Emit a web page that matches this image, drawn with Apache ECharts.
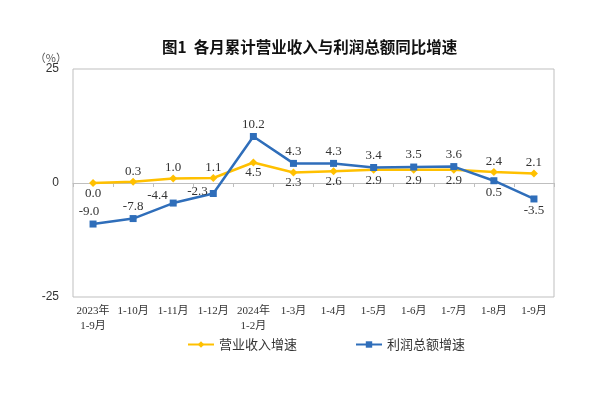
<!DOCTYPE html>
<html>
<head>
<meta charset="utf-8">
<script src="https://cdn.jsdelivr.net/npm/echarts@6/dist/echarts.min.js"></script>
<style>
  html, body { margin: 0; padding: 0; background: #fff; }
  #chart { width: 600px; height: 397px; }
</style>
</head>
<body>
<div id="chart"></div>
<script>
const categories = ['2023年\n1-9月', '1-10月', '1-11月', '1-12月', '2024年\n1-2月', '1-3月',
    '1-4月', '1-5月', '1-6月', '1-7月', '1-8月', '1-9月'];
const revenueGrowth = [0.0, 0.3, 1.0, 1.1, 4.5, 2.3, 2.6, 2.9, 2.9, 2.9, 2.4, 2.1];
const profitGrowth = [-9.0, -7.8, -4.4, -2.3, 10.2, 4.3, 4.3, 3.4, 3.5, 3.6, 0.5, -3.5];
const yTicks = [-25, 0, 25];

// 标签位置（样式）
const revenueLabelPos = ['bottom', 'top', 'top', 'top', 'bottom', 'bottom', 'bottom', 'bottom', 'bottom', 'bottom', 'top', 'top'];
const profitLabelPos = ['top', 'top', 'left', 'left', 'top', 'top', 'top', 'top', 'top', 'top', 'bottom', 'bottom'];
const profitLabelOffset = [[-4, 0], [0, 0], [0, -7], [0, -2], [0, 0], [0, 0], [0, 0], [0, 0], [0, 0], [0, 0], [0, 0], [0, 0]];

const serifFont = '"Liberation Serif", "Noto Sans CJK SC", serif';
const cjkFont = '"Noto Sans CJK SC", sans-serif';

function withLabels(values, positions, offsets) {
    return values.map((v, i) => ({
        value: v,
        label: { position: positions[i], offset: offsets ? offsets[i] : [0, 0] }
    }));
}

const chart = echarts.init(document.getElementById('chart'));
const option = {
    backgroundColor: '#fff',
    animation: false,
    title: {
        text: '图1  各月累计营业收入与利润总额同比增速',
        left: 157,
        top: 34,
        textStyle: {
            color: '#111',
            fontSize: 15.5,
            fontWeight: 'bold',
            fontFamily: cjkFont
        }
    },
    legend: {
        data: ['营业收入增速', '利润总额增速'],
        left: 182,
        top: 333,
        itemWidth: 26,
        itemHeight: 8,
        itemGap: 58,
        textStyle: {
            color: '#333',
            fontSize: 13,
            fontFamily: cjkFont
        }
    },
    grid: {
        left: 73,
        right: 46,
        top: 69,
        bottom: 100,
        show: true,
        borderColor: '#bfbfbf',
        borderWidth: 1
    },
    xAxis: [
        {
            type: 'category',
            data: categories,
            position: 'bottom',
            axisLine: { show: false, onZero: false },
            axisTick: { show: false },
            axisLabel: {
                interval: 0,
                margin: 7,
                color: '#333',
                fontSize: 11,
                lineHeight: 15,
                fontFamily: serifFont
            }
        },
        {
            type: 'category',
            data: categories,
            position: 'top',
            axisLine: { show: true, onZero: true, lineStyle: { color: '#bfbfbf', width: 1 } },
            axisTick: { show: true, inside: true, length: 4, interval: 0, lineStyle: { color: '#bfbfbf' } },
            axisLabel: { show: false }
        }
    ],
    yAxis: {
        type: 'value',
        min: yTicks[0],
        max: yTicks[yTicks.length - 1],
        interval: 25,
        name: '（%）',
        nameLocation: 'end',
        nameGap: 4,
        nameTextStyle: {
            color: '#555',
            fontSize: 11,
            fontFamily: cjkFont,
            align: 'right',
            padding: [0, 6, 0, 0]
        },
        axisLine: { show: false },
        axisTick: { show: false },
        splitLine: { show: false },
        axisLabel: {
            margin: 14,
            color: '#333',
            fontSize: 12,
            fontFamily: '"Liberation Sans", sans-serif'
        }
    },
    series: [
        {
            name: '营业收入增速',
            type: 'line',
            xAxisIndex: 0,
            data: withLabels(revenueGrowth, revenueLabelPos),
            symbol: 'diamond',
            symbolSize: 8,
            lineStyle: { color: '#FFC000', width: 2.5 },
            itemStyle: { color: '#FFC000' },
            label: {
                show: true,
                distance: 0,
                color: '#333',
                fontSize: 13,
                fontFamily: serifFont,
                formatter: p => p.value.toFixed(1)
            },
            z: 2
        },
        {
            name: '利润总额增速',
            type: 'line',
            xAxisIndex: 0,
            data: withLabels(profitGrowth, profitLabelPos, profitLabelOffset),
            symbol: 'rect',
            symbolSize: 7,
            lineStyle: { color: '#2F6EBA', width: 2.5 },
            itemStyle: { color: '#2F6EBA' },
            label: {
                show: true,
                distance: 2,
                color: '#333',
                fontSize: 13,
                fontFamily: serifFont,
                formatter: p => p.value.toFixed(1)
            },
            z: 3
        }
    ]
};
chart.setOption(option);
</script>
</body>
</html>
